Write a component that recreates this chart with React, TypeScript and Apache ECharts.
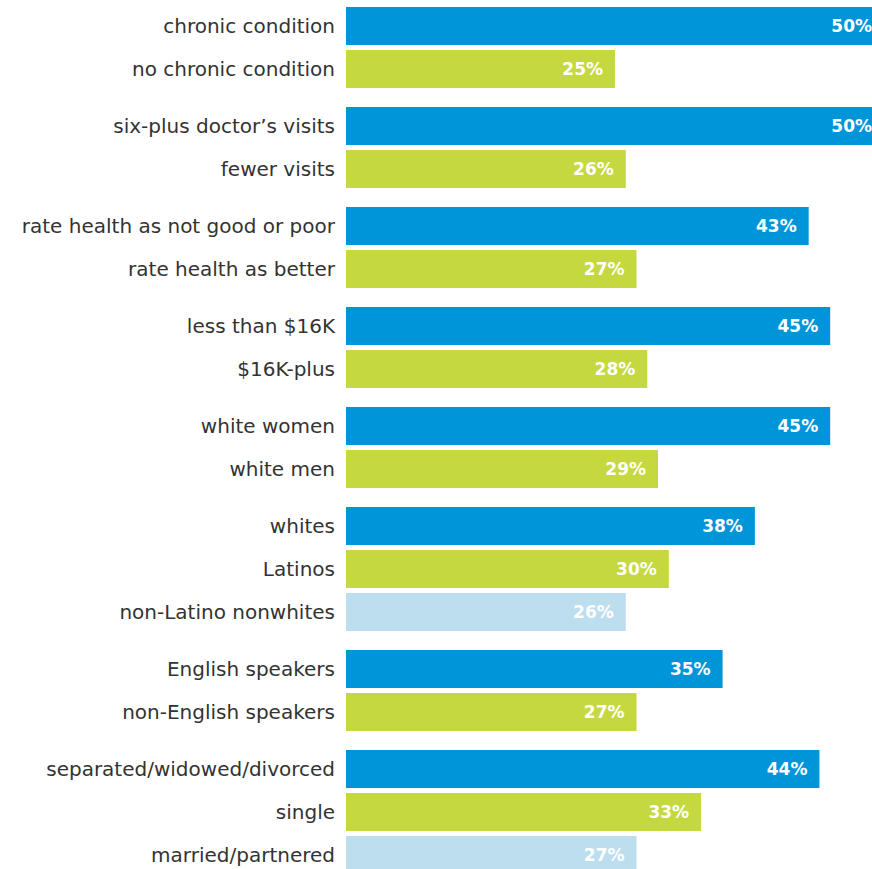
import React, { useEffect, useRef } from "react";
import * as echarts from "echarts";

const categories = [
  "chronic condition",
  "no chronic condition",
  "six-plus doctor\u2019s visits",
  "fewer visits",
  "rate health as not good or poor",
  "rate health as better",
  "less than $16K",
  "$16K-plus",
  "white women",
  "white men",
  "whites",
  "Latinos",
  "non-Latino nonwhites",
  "English speakers",
  "non-English speakers",
  "separated/widowed/divorced",
  "single",
  "married/partnered",
];
const values = [50, 25, 50, 26, 43, 27, 45, 28, 45, 29, 38, 30, 26, 35, 27, 44, 33, 27];
const groupSizes = [2, 2, 2, 2, 2, 3, 2, 3];
const rankColors = ["#0094D9", "#C5D840", "#BDDEEE"];

export default function App() {
  const ref = useRef<HTMLDivElement>(null);
  useEffect(() => {
    if (!ref.current) return;
    const chart = echarts.init(ref.current, null, { renderer: "svg" });
    const rowH = 43;
    const gap = 14;
    const grids: any[] = [];
    const xAxes: any[] = [];
    const yAxes: any[] = [];
    const series: any[] = [];
    let top = 4.5;
    let start = 0;
    groupSizes.forEach((n, gi) => {
      const cats = categories.slice(start, start + n);
      const vals = values.slice(start, start + n);
      grids.push({ left: 346, width: 538, top, height: n * rowH });
      xAxes.push({ gridIndex: gi, type: "value", min: 0, max: 50, show: false });
      yAxes.push({
        gridIndex: gi,
        type: "category",
        inverse: true,
        data: cats,
        axisLine: { show: false },
        axisTick: { show: false },
        splitLine: { show: false },
        axisLabel: {
          margin: 11,
          color: "#333333",
          fontSize: 20,
          fontFamily: "DejaVu Sans",
        },
      });
      series.push({
        type: "bar",
        xAxisIndex: gi,
        yAxisIndex: gi,
        barWidth: 38,
        data: vals.map((v, i) => ({ value: v, itemStyle: { color: rankColors[i] } })),
        label: {
          show: true,
          position: "insideRight",
          distance: 12,
          formatter: "{c}%",
          color: "#ffffff",
          fontSize: 17,
          fontWeight: "bold",
          fontFamily: "DejaVu Sans",
        },
      });
      top += n * rowH + gap;
      start += n;
    });
    chart.setOption({
      animation: false,
      backgroundColor: "#ffffff",
      grid: grids,
      xAxis: xAxes,
      yAxis: yAxes,
      series,
    });
    return () => chart.dispose();
  }, []);
  return (
    <div
      style={{
        position: "absolute",
        left: 0,
        top: 0,
        width: 872,
        height: 869,
        overflow: "hidden",
        background: "#ffffff",
      }}
    >
      <div ref={ref} style={{ width: 900, height: 890 }} />
    </div>
  );
}
